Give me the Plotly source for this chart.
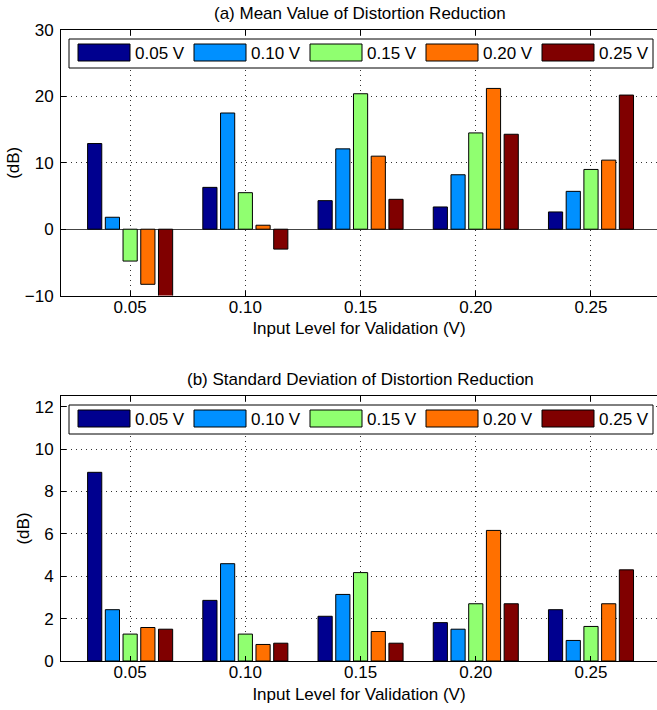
import plotly.graph_objects as go

# ---------------- data ----------------
levels = [0.05, 0.10, 0.15, 0.20, 0.25]
tick_labels = ["0.05", "0.10", "0.15", "0.20", "0.25"]
series_names = ["0.05 V", "0.10 V", "0.15 V", "0.20 V", "0.25 V"]
colors = ["#00008F", "#0090FF", "#90FF70", "#FF7000", "#800000"]

mean_005 = [12.9, 6.3, 4.3, 3.35, 2.6]
mean_010 = [1.8, 17.5, 12.1, 8.2, 5.7]
mean_015 = [-4.8, 5.5, 20.4, 14.5, 9.0]
mean_020 = [-8.3, 0.6, 11.0, 21.2, 10.4]
mean_025 = [-10.4, -3.0, 4.5, 14.3, 20.2]

std_005 = [8.9, 2.86, 2.11, 1.81, 2.42]
std_010 = [2.42, 4.59, 3.14, 1.50, 0.97]
std_015 = [1.27, 1.27, 4.17, 2.70, 1.63]
std_020 = [1.58, 0.78, 1.39, 6.16, 2.70]
std_025 = [1.50, 0.84, 0.84, 2.70, 4.30]

mean_series = [mean_005, mean_010, mean_015, mean_020, mean_025]
std_series = [std_005, std_010, std_015, std_020, std_025]

title_a = "(a) Mean Value of Distortion Reduction"
title_b = "(b) Standard Deviation of Distortion Reduction"
x_title = "Input Level for Validation (V)"
y_title = "(dB)"

# ---------------- layout geometry (pixels) ----------------
W, H = 657, 710
ML, MR, MT, MB = 61, 0, 30, 49
PW, PH = W - ML - MR, H - MT - MB
FONT = "Liberation Sans, Arial, Helvetica, sans-serif"
FS = 17


def px(x):
    return (x - ML) / PW


def py(y):
    return (H - MB - y) / PH


top_dom = [py(295.6), 1.0]
bot_dom = [0.0, py(396)]

fig = go.Figure()
for i, name in enumerate(series_names):
    fig.add_trace(go.Bar(x=levels, y=mean_series[i], name=name, marker_color=colors[i],
                         marker_line=dict(color="black", width=1), xaxis="x", yaxis="y",
                         showlegend=False))
for i, name in enumerate(series_names):
    fig.add_trace(go.Bar(x=levels, y=std_series[i], name=name, marker_color=colors[i],
                         marker_line=dict(color="black", width=1), xaxis="x2", yaxis="y2",
                         showlegend=False))

grid = dict(showgrid=True, gridcolor="#333", gridwidth=1, griddash="1px,4px")
xcommon = dict(range=[0.02, 0.02 + PW / 2304.3], tickvals=levels, ticktext=tick_labels,
               showline=True, linecolor="black", linewidth=1, mirror="ticks",
               ticks="inside", ticklen=5, tickcolor="black", zeroline=False, automargin=False,
               tickfont=dict(family=FONT, size=FS, color="black"),
               title=dict(text=x_title, font=dict(family=FONT, size=FS, color="black"), standoff=6),
               ticklabelstandoff=-4, **grid)
ycommon = dict(showline=True, linecolor="black", linewidth=1, mirror=False, automargin=False,
               ticks="inside", ticklen=5, tickcolor="black", ticklabelstandoff=3,
               tickfont=dict(family=FONT, size=FS, color="black"),
               title=dict(text=y_title, font=dict(family=FONT, size=FS, color="black"), standoff=0),
               **grid)

fig.update_layout(
    width=W, height=H,
    margin=dict(l=ML, r=MR, t=MT, b=MB, autoexpand=False),
    paper_bgcolor="white", plot_bgcolor="white",
    barmode="group", bargap=0.231, bargroupgap=0.2,
    font=dict(family=FONT, size=FS, color="black"),
    xaxis=dict(domain=[0, 1], anchor="y", **xcommon),
    yaxis=dict(domain=top_dom, anchor="x", range=[-10, 30], tickvals=[-10, 0, 10, 20, 30],
               ticktext=["\u221210", "0", "10", "20", "30"],
               zeroline=True, zerolinecolor="#444", zerolinewidth=1, **ycommon),
    xaxis2=dict(domain=[0, 1], anchor="y2", **xcommon),
    yaxis2=dict(domain=bot_dom, anchor="x2", range=[0, 12.5], tickvals=[0, 2, 4, 6, 8, 10, 12],
                zeroline=False, **ycommon),
)

# titles
fig.add_annotation(text=title_a, xref="paper", yref="paper", x=px(360), y=py(13),
                   xanchor="center", yanchor="middle", showarrow=False,
                   font=dict(family=FONT, size=FS, color="black"))
fig.add_annotation(text=title_b, xref="paper", yref="paper", x=px(360), y=py(379),
                   xanchor="center", yanchor="middle", showarrow=False,
                   font=dict(family=FONT, size=FS, color="black"))

# custom legends (wide swatches like the original)
shapes = []
for top in (39, 405):
    shapes.append(dict(type="rect", xref="paper", yref="paper", x0=px(69), x1=px(653),
                       y0=py(top), y1=py(top + 29), fillcolor="white",
                       line=dict(color="black", width=1), layer="above"))
    for i, name in enumerate(series_names):
        x0 = 78 + i * 116
        shapes.append(dict(type="rect", xref="paper", yref="paper", x0=px(x0), x1=px(x0 + 52),
                           y0=py(top + 5), y1=py(top + 22), fillcolor=colors[i],
                           line=dict(color="black", width=1), layer="above"))
        fig.add_annotation(text=name, xref="paper", yref="paper", x=px(x0 + 55), y=py(top + 14.5),
                           xanchor="left", yanchor="middle", showarrow=False,
                           font=dict(family=FONT, size=FS, color="black"))
fig.update_layout(shapes=shapes)

fig.write_html("out.html", config={"displayModeBar": False},
               post_script="document.body.style.margin='0';document.body.style.overflow='hidden';")
